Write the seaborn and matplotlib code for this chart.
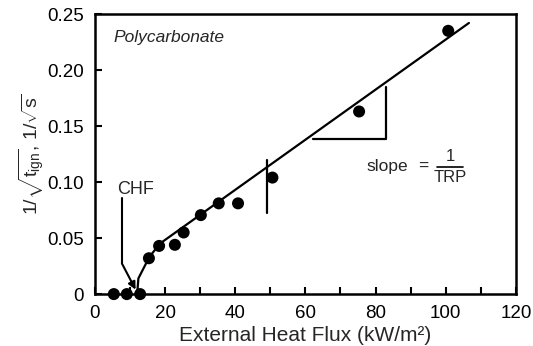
import matplotlib
matplotlib.use("Agg")
import matplotlib.pyplot as plt
import seaborn as sns
import pandas as pd
import numpy as np

# Data
heat_flux = [5.4, 9.1, 12.9, 15.4, 18.3, 22.8, 25.3, 30.2, 35.3, 40.8, 50.6, 75.3, 100.7]
inv_sqrt_t = [0.0, 0.0, 0.0, 0.032, 0.043, 0.044, 0.055, 0.0705, 0.081, 0.081, 0.104, 0.163, 0.235]

fit_x = [12.1, 12.4, 15.5, 18.5, 106.6]
fit_y = [0.002, 0.014, 0.033, 0.045, 0.242]

x_ticks = [0, 20, 40, 60, 80, 100, 120]
y_ticks = [0, 0.05, 0.10, 0.15, 0.20, 0.25]
y_tick_labels = ["0", "0.05", "0.10", "0.15", "0.20", "0.25"]

sns.set_theme(style="ticks")
plt.rcParams['font.family'] = ['Liberation Sans', 'DejaVu Sans']
plt.rcParams['mathtext.fontset'] = 'custom'
plt.rcParams['mathtext.rm'] = 'Liberation Sans'
plt.rcParams['mathtext.it'] = 'Liberation Sans'
plt.rcParams['mathtext.bf'] = 'Liberation Sans:bold'

fig = plt.figure(figsize=(5.33, 3.46), dpi=100)
ax = fig.add_axes([0.178, 0.150, 0.790, 0.8095])

pts = pd.DataFrame({"flux": heat_flux, "val": inv_sqrt_t})
fit = pd.DataFrame({"flux": fit_x, "val": fit_y})

sns.lineplot(data=fit, x="flux", y="val", ax=ax, color="black", lw=1.6, sort=False, zorder=2)
sns.scatterplot(data=pts, x="flux", y="val", ax=ax, color="black", s=75, edgecolor="none", zorder=3, clip_on=False)

ax.set_xlim(0, 120)
ax.set_ylim(0, 0.25)
ax.set_xticks(x_ticks)
ax.set_xticks(list(range(10, 120, 20)), minor=True)
ax.set_yticks(y_ticks)
ax.set_yticklabels(y_tick_labels)
ax.tick_params(axis="both", which="both", direction="in", length=5, width=1.5, colors="black",
               labelsize=13.5)
ax.tick_params(axis="x", pad=8)
ax.tick_params(axis="y", pad=8)
for s in ax.spines.values():
    s.set_linewidth(1.8)
    s.set_color("black")

ax.set_xlabel("External Heat Flux (kW/m²)", fontsize=15, labelpad=3)
ax.set_ylabel(r"$1/\sqrt{\mathrm{t_{ign}}}$, $1/\sqrt{\mathrm{s}}$", fontsize=14, labelpad=1)

# Annotations
ax.text(5.4, 0.229, "Polycarbonate", style="italic", fontsize=12.5, va="center", ha="left")
ax.text(6.4, 0.093, "CHF", fontsize=13, va="center", ha="left")
ax.plot([7.7, 7.7], [0.086, 0.0274], color="black", lw=1.5)
ax.annotate("", xy=(11.6, 0.004), xytext=(7.7, 0.0274),
            arrowprops=dict(arrowstyle="-|>", color="black", lw=1.5, mutation_scale=11,
                            shrinkA=0, shrinkB=0))

ax.plot([49.1, 49.1], [0.1196, 0.072], color="black", lw=1.6)
ax.plot([62.2, 82.9, 82.9], [0.1384, 0.1384, 0.185], color="black", lw=1.6)

ax.text(77.3, 0.1137, "slope", fontsize=12.5, va="center", ha="left")
ax.text(92.1, 0.1137, "=", fontsize=12.5, va="center", ha="left")
ax.plot([97.4, 105.0], [0.1137, 0.1137], color="black", lw=1.2)
ax.text(101.2, 0.1160, "1", fontsize=12, va="bottom", ha="center")
ax.text(101.2, 0.1110, "TRP", fontsize=12, va="top", ha="center")

fig.savefig("out.png", dpi=100)
